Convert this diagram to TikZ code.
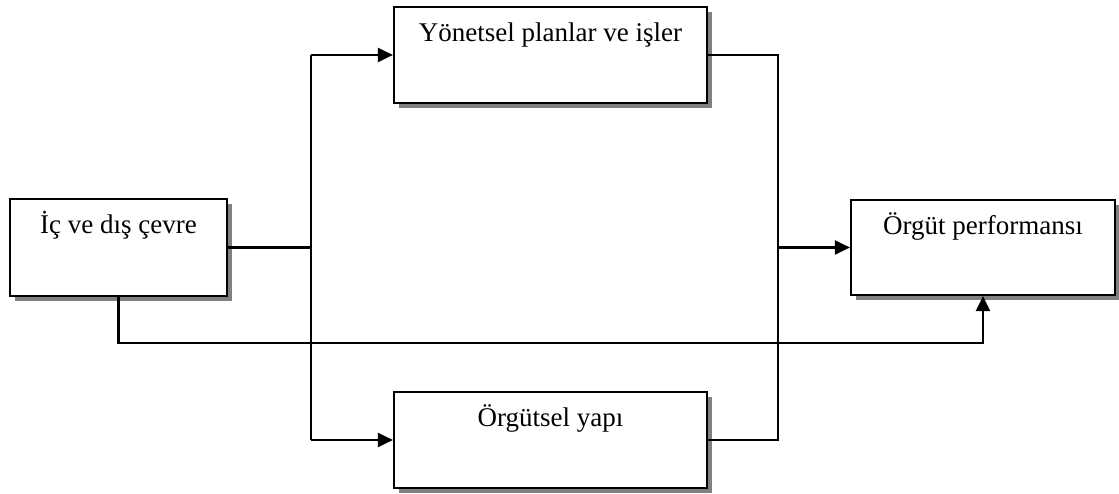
\documentclass[tikz,border=0pt]{standalone}
\usepackage{fontspec}
\setmainfont{Liberation Serif}
\usetikzlibrary{arrows.meta,shadows}
\begin{document}
\begin{tikzpicture}[x=1pt,y=1pt,
  box/.style={draw=black,line width=2.2pt,fill=white,inner sep=0pt,
    drop shadow={shadow xshift=5pt,shadow yshift=-5pt,fill=black!50,opacity=1}},
  boxtext/.style={anchor=base,inner sep=0pt,font=\fontsize{27}{30}\selectfont},
  wire/.style={line width=2.2pt},
  arr/.style={wire,-{Triangle[length=15pt,width=14pt]}}]
  \useasboundingbox (0,0) rectangle (1119,494);

  % boxes
  \node[box,minimum width=217pt,minimum height=97pt] (env) at (118.5,246.5) {};
  \node[box,minimum width=313pt,minimum height=96pt] (plans) at (550.5,439) {};
  \node[box,minimum width=313pt,minimum height=96pt] (struct) at (550.5,54) {};
  \node[box,minimum width=264pt,minimum height=95pt] (perf) at (983,246.5) {};

  % box captions
  \node[boxtext] (envt) at ([yshift=-36pt]env.north) {İç ve dış çevre};
  \node[boxtext] (planst) at ([yshift=-36pt]plans.north) {Yönetsel planlar ve işler};
  \node[boxtext] (structt) at ([yshift=-36pt]struct.north) {Örgütsel yapı};
  \node[boxtext] (perft) at ([yshift=-36pt]perf.north) {Örgüt performansı};

  % bus lines
  \coordinate (lx) at (311,0);
  \coordinate (rx) at (778,0);
  \coordinate (loopy) at (0,151);

  \draw[wire] (env.east) -- (env.east -| lx);
  \draw[wire] (plans.west -| lx) -- (struct.west -| lx);
  \draw[arr] (plans.west -| lx) -- (plans.west);
  \draw[arr] (struct.west -| lx) -- (struct.west);

  \draw[wire] (plans.east) -- (plans.east -| rx) -- (struct.east -| rx) -- (struct.east);
  \draw[arr] (perf.west -| rx) -- (perf.west);

  \draw[arr] (env.south) -- (env.south |- loopy) -- (perf.south |- loopy) -- (perf.south);
\end{tikzpicture}
\end{document}
